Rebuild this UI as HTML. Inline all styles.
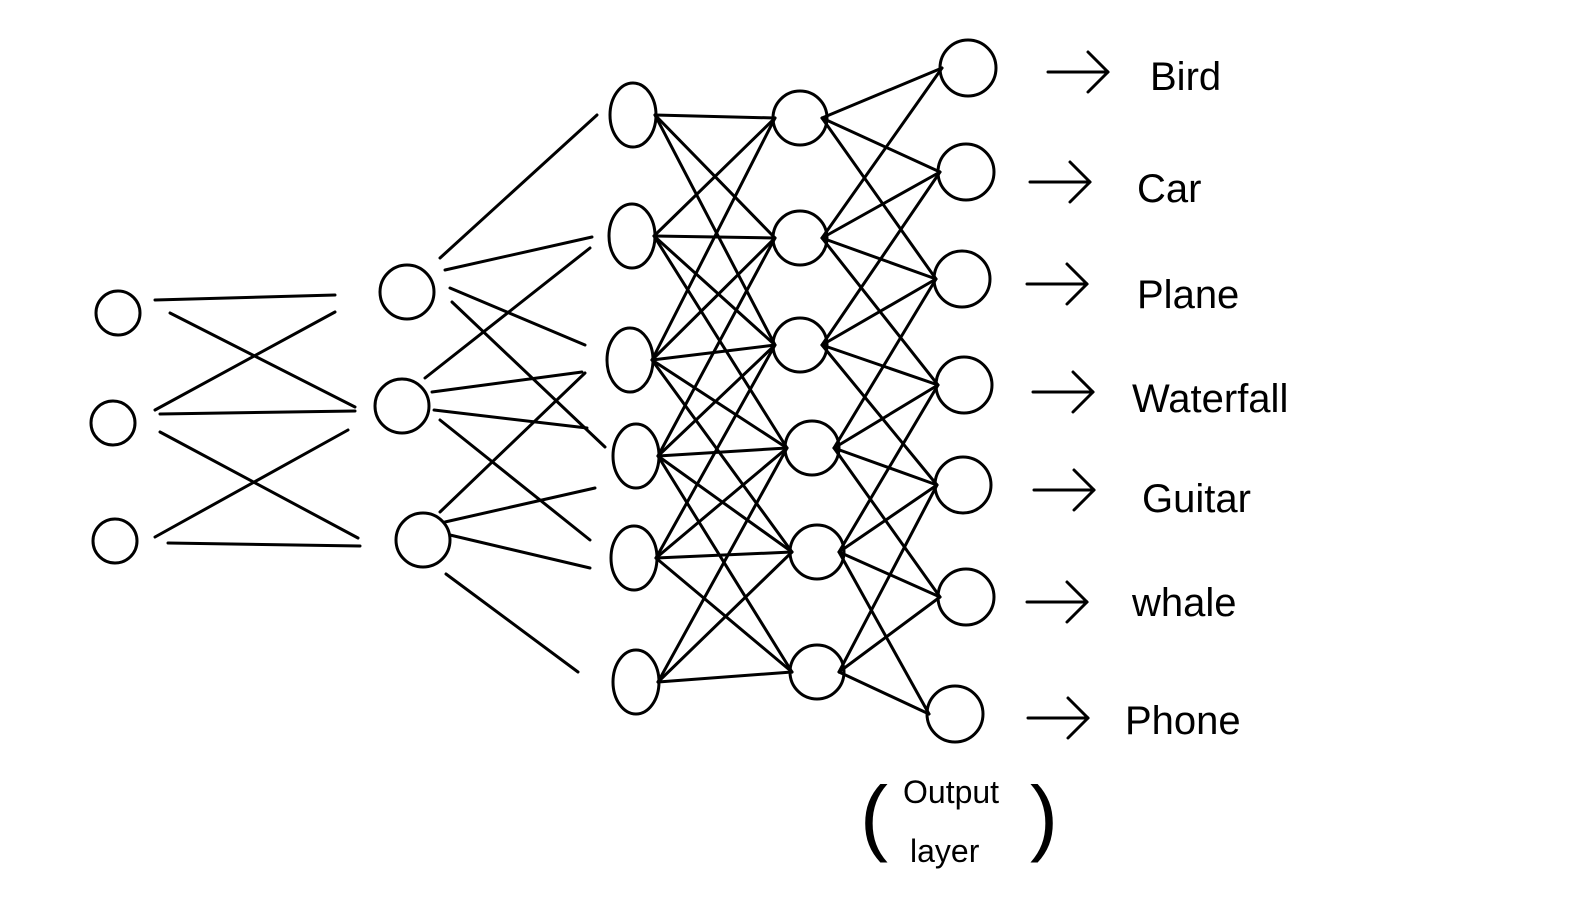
<!DOCTYPE html>
<html><head><meta charset="utf-8"><style>
html,body{margin:0;padding:0;background:#fff;}
svg{display:block}
text{font-family:"Liberation Sans",sans-serif;fill:#000}
</style></head><body>
<svg id="s" width="1570" height="918" viewBox="0 0 1570 918" xmlns="http://www.w3.org/2000/svg">
<g id="g" fill="none" stroke="#000" stroke-width="3" stroke-linecap="round">
<line x1="155" y1="300" x2="335" y2="295"/>
<line x1="170" y1="313" x2="355" y2="407"/>
<line x1="155" y1="410" x2="335" y2="312"/>
<line x1="160" y1="414" x2="355" y2="411"/>
<line x1="160" y1="432" x2="358" y2="538"/>
<line x1="155" y1="537" x2="348" y2="430"/>
<line x1="168" y1="543" x2="360" y2="546"/>
<line x1="440" y1="258" x2="597" y2="115"/>
<line x1="445" y1="270" x2="592" y2="237"/>
<line x1="450" y1="288" x2="585" y2="345"/>
<line x1="452" y1="302" x2="605" y2="447"/>
<line x1="425" y1="378" x2="590" y2="248"/>
<line x1="432" y1="392" x2="582" y2="372"/>
<line x1="434" y1="410" x2="587" y2="428"/>
<line x1="440" y1="420" x2="590" y2="540"/>
<line x1="440" y1="512" x2="585" y2="373"/>
<line x1="445" y1="522" x2="595" y2="488"/>
<line x1="450" y1="535" x2="590" y2="568"/>
<line x1="446" y1="574" x2="578" y2="672"/>
</g>
<g id="c" fill="none" stroke="#000" stroke-width="3"></g>
<g font-size="40">
<text x="1150" y="90">Bird</text>
<text x="1137" y="202">Car</text>
<text x="1137" y="308">Plane</text>
<text x="1132" y="412">Waterfall</text>
<text x="1142" y="512">Guitar</text>
<text x="1132" y="616">whale</text>
<text x="1125" y="734">Phone</text>
<text x="903" y="803" font-size="32">Output</text>
<text x="910" y="862" font-size="32">layer</text>
<text x="860" y="845" font-size="84" font-weight="100" fill="#333">(</text>
<text x="1030" y="845" font-size="84" font-weight="100" fill="#333">)</text>
</g>
</svg>
<script>
var NS="http://www.w3.org/2000/svg",g=document.getElementById('g'),c=document.getElementById('c');
function L(a,b,x,y){var l=document.createElementNS(NS,'line');l.setAttribute('x1',a);l.setAttribute('y1',b);l.setAttribute('x2',x);l.setAttribute('y2',y);g.appendChild(l);}
function E(x,y,rx,ry){var e=document.createElementNS(NS,'ellipse');e.setAttribute('cx',x);e.setAttribute('cy',y);e.setAttribute('rx',rx);e.setAttribute('ry',ry);c.appendChild(e);}
var l1=[[118,313],[113,423],[115,541]],
l2=[[407,292],[402,406],[423,540]],
l3=[[633,115],[632,236],[630,360],[636,456],[634,558],[636,682]],
l4=[[800,118],[800,238],[800,345],[812,448],[817,552],[817,672]],
l5=[[968,68],[966,172],[962,279],[964,385],[963,485],[966,597],[955,714]];
l3.forEach(function(a,i){l4.forEach(function(b,j){if(Math.abs(i-j)<=2)L(a[0]+22,a[1],b[0]-25,b[1]);});});
l4.forEach(function(a,i){l5.forEach(function(b,j){if(Math.abs(i*1.2-j)<=2.2)L(a[0]+22,a[1],b[0]-26,b[1]);});});
l1.forEach(function(p){E(p[0],p[1],22,22);});
l2.forEach(function(p){E(p[0],p[1],27,27);});
l3.forEach(function(p){E(p[0],p[1],23,32);});
l4.forEach(function(p){E(p[0],p[1],27,27);});
l5.forEach(function(p){E(p[0],p[1],28,28);});
var ar=[[1048,72],[1030,182],[1027,284],[1033,392],[1034,490],[1027,602],[1028,718]];
ar.forEach(function(a){L(a[0],a[1],a[0]+58,a[1]);L(a[0]+40,a[1]-20,a[0]+60,a[1]);L(a[0]+40,a[1]+20,a[0]+60,a[1]);});
</script>
</body></html>
